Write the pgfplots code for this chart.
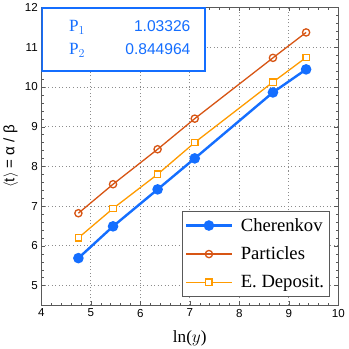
\documentclass[border=0pt]{standalone}
\usepackage{fontspec}
\setmainfont{Liberation Serif}
\setsansfont{Liberation Sans}
\usepackage{pgfplots}
\pgfplotsset{compat=1.18}

\definecolor{cblue}{RGB}{20,110,255}
\definecolor{cred}{RGB}{215,85,20}
\definecolor{corange}{RGB}{255,155,0}

\begin{document}
\begin{tikzpicture}
\begin{axis}[
  scale only axis, width=295pt, height=296pt,
  xmin=4, xmax=10, ymin=4.5, ymax=12,
  xtick={4,5,...,10}, ytick={5,6,...,12},
  minor x tick num=4, minor y tick num=4,
  tick align=inside,
  major tick length=4pt, minor tick length=2.5pt,
  grid=major,
  major grid style={dash pattern=on 1pt off 2.5pt, gray!90, line width=0.7pt},
  axis line style={gray!70!black},
  tick style={gray!70!black},
  /pgf/number format/assume math mode=true,
  ticklabel style={font=\sffamily\fontsize{11.5}{11.5}\selectfont},
  xlabel={ln($y$)},
  xlabel style={font=\fontsize{17}{17}\selectfont, yshift=-6pt},
  ylabel={\sffamily$\langle$t$\rangle$ = α / β},
  ylabel style={font=\fontsize{15}{15}\selectfont, yshift=0pt},
  legend pos=south east,
  legend cell align=left,
  legend style={font=\fontsize{18.5}{18.5}\selectfont, draw=gray!70!black,
    inner xsep=3pt, inner ysep=5pt, row sep=10pt,
    /tikz/every odd column/.append style={column sep=6pt}},
  legend image code/.code={%
    \draw[mark repeat=2, mark phase=2] plot coordinates {(0pt,0pt) (22.5pt,0pt) (45pt,0pt)};},
]
\addplot[cblue, line width=2.4pt, mark=*, mark size=4pt]
  coordinates {(4.75,5.69) (5.45,6.49) (6.35,7.42) (7.10,8.20) (8.68,9.86) (9.35,10.44)};
\addlegendentry{Cherenkov}
\addplot[cred, line width=1.3pt, mark=o, mark size=3.6pt, mark options={fill=white, line width=1.3pt}]
  coordinates {(4.75,6.82) (5.45,7.55) (6.35,8.43) (7.10,9.20) (8.68,10.73) (9.35,11.37)};
\addlegendentry{Particles}
\addplot[corange, line width=1.3pt, mark=square*, mark size=3.2pt, mark options={fill=white, line width=1.3pt}]
  coordinates {(4.75,6.20) (5.45,6.94) (6.35,7.80) (7.10,8.60) (8.68,10.12) (9.35,10.74)};
\addlegendentry{E. Deposit.}
\node[anchor=north west, draw=cblue, line width=1.8pt, fill=white, text=cblue,
  inner sep=0pt, minimum width=162pt, minimum height=62pt] at (rel axis cs:0,1) {%
  \begin{tabular}{@{\hspace{18pt}}l@{\hspace{40pt}}r@{\hspace{6pt}}}
    \fontsize{17}{17}\selectfont P$_1$ & \sffamily\fontsize{15.5}{15.5}\selectfont 1.03326\\[8pt]
    \fontsize{17}{17}\selectfont P$_2$ & \sffamily\fontsize{15.5}{15.5}\selectfont 0.844964
  \end{tabular}};
\end{axis}
\end{tikzpicture}
\end{document}
